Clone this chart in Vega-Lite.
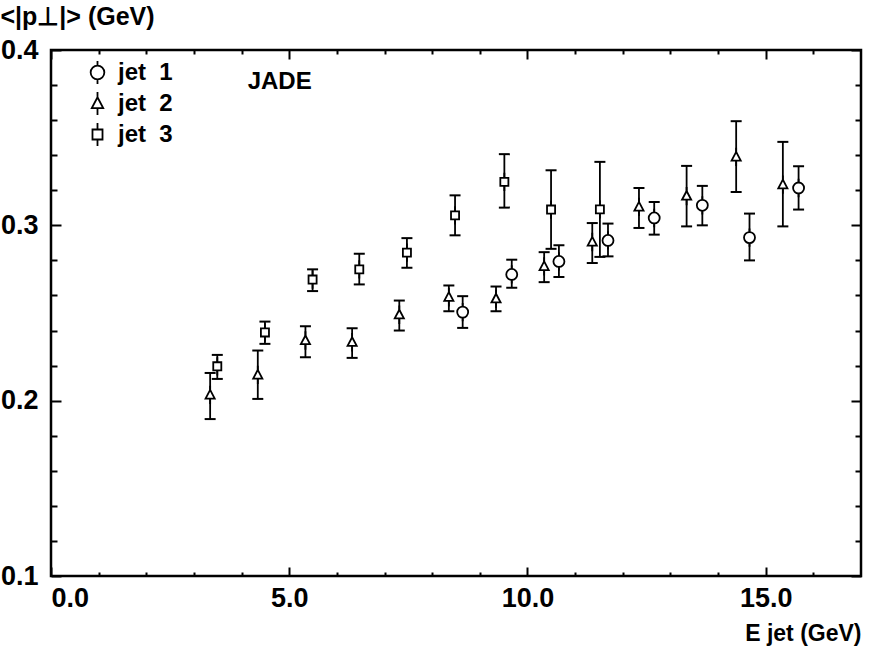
{
  "$schema": "https://vega.github.io/schema/vega-lite/v6.json",
  "width": 810,
  "height": 526,
  "autosize": {"type": "none"},
  "padding": {"left": 51, "top": 50, "right": 10, "bottom": 79},
  "background": "white",
  "config": {
    "view": {"stroke": "black", "strokeWidth": 2.5},
    "axis": {
      "grid": false,
      "domain": false,
      "tickColor": "black",
      "tickWidth": 2,
      "labelColor": "black",
      "titleColor": "black",
      "labelFont": "Liberation Sans",
      "titleFont": "Liberation Sans",
      "labelFontWeight": "bold",
      "titleFontWeight": "bold",
      "labelFontSize": 27,
      "labelOverlap": false,
      "labelBound": false
    },
    "legend": {"symbolSize": 520}
  },
  "data": {
    "values": [
      {"jet": "jet 1", "E": 8.64, "pt": 0.2505, "lo": 0.2415, "hi": 0.2596},
      {"jet": "jet 1", "E": 9.67, "pt": 0.272, "lo": 0.2644, "hi": 0.2804},
      {"jet": "jet 1", "E": 10.66, "pt": 0.2794, "lo": 0.2705, "hi": 0.2886},
      {"jet": "jet 1", "E": 11.69, "pt": 0.2914, "lo": 0.2823, "hi": 0.301},
      {"jet": "jet 1", "E": 12.66, "pt": 0.3042, "lo": 0.2947, "hi": 0.3133},
      {"jet": "jet 1", "E": 13.67, "pt": 0.3114, "lo": 0.3, "hi": 0.3225},
      {"jet": "jet 1", "E": 14.66, "pt": 0.293, "lo": 0.28, "hi": 0.3067},
      {"jet": "jet 1", "E": 15.69, "pt": 0.3213, "lo": 0.309, "hi": 0.3337},
      {"jet": "jet 2", "E": 3.34, "pt": 0.2033, "lo": 0.1895, "hi": 0.2158},
      {"jet": "jet 2", "E": 4.34, "pt": 0.2147, "lo": 0.201, "hi": 0.2286},
      {"jet": "jet 2", "E": 5.34, "pt": 0.2343, "lo": 0.2247, "hi": 0.2425},
      {"jet": "jet 2", "E": 6.32, "pt": 0.2333, "lo": 0.2244, "hi": 0.2413},
      {"jet": "jet 2", "E": 7.31, "pt": 0.249, "lo": 0.24, "hi": 0.2571},
      {"jet": "jet 2", "E": 8.35, "pt": 0.259, "lo": 0.251, "hi": 0.2657},
      {"jet": "jet 2", "E": 9.34, "pt": 0.2581, "lo": 0.251, "hi": 0.2651},
      {"jet": "jet 2", "E": 10.35, "pt": 0.2766, "lo": 0.2676, "hi": 0.2847},
      {"jet": "jet 2", "E": 11.36, "pt": 0.2905, "lo": 0.2785, "hi": 0.3013},
      {"jet": "jet 2", "E": 12.34, "pt": 0.3105, "lo": 0.2985, "hi": 0.3213},
      {"jet": "jet 2", "E": 13.34, "pt": 0.3167, "lo": 0.2994, "hi": 0.3339},
      {"jet": "jet 2", "E": 14.38, "pt": 0.339, "lo": 0.319, "hi": 0.3594},
      {"jet": "jet 2", "E": 15.36, "pt": 0.3232, "lo": 0.2994, "hi": 0.3476},
      {"jet": "jet 3", "E": 3.49, "pt": 0.2196, "lo": 0.2124, "hi": 0.2261},
      {"jet": "jet 3", "E": 4.49, "pt": 0.2389, "lo": 0.2324, "hi": 0.2451},
      {"jet": "jet 3", "E": 5.49, "pt": 0.2691, "lo": 0.2625, "hi": 0.2749},
      {"jet": "jet 3", "E": 6.47, "pt": 0.2749, "lo": 0.2663, "hi": 0.2838},
      {"jet": "jet 3", "E": 7.47, "pt": 0.2844, "lo": 0.2758, "hi": 0.2927},
      {"jet": "jet 3", "E": 8.48, "pt": 0.3057, "lo": 0.2943, "hi": 0.3171},
      {"jet": "jet 3", "E": 9.515, "pt": 0.3248, "lo": 0.3101, "hi": 0.3406},
      {"jet": "jet 3", "E": 10.495, "pt": 0.309, "lo": 0.2866, "hi": 0.3314},
      {"jet": "jet 3", "E": 11.52, "pt": 0.3091, "lo": 0.282, "hi": 0.3362}
    ]
  },
  "resolve": {"axis": {"x": "independent", "y": "independent"}},
  "layer": [
    {
      "mark": {"type": "rule", "color": "black", "strokeWidth": 1.8},
      "encoding": {
        "x": {
          "field": "E", "type": "quantitative",
          "scale": {"domain": [0, 17], "nice": false, "zero": false},
          "axis": {
            "orient": "bottom", "values": [0, 5, 10, 15], "format": ".1f",
            "tickSize": -9, "labelPadding": 18, "labelFlush": true,
            "title": "E jet (GeV)", "titleFontSize": 23, "titleAnchor": "end",
            "titleAlign": "right", "titleBaseline": "top", "titleX": 810, "titleY": 46
          }
        },
        "y": {
          "field": "lo", "type": "quantitative",
          "scale": {"domain": [0.1, 0.4], "nice": false, "zero": false},
          "axis": {
            "orient": "left", "values": [0.1, 0.2, 0.3, 0.4], "format": ".1f",
            "tickSize": -10, "labelPadding": 23,
            "title": "<|p⊥|> (GeV)", "titleFontSize": 25, "titleAngle": 0,
            "titleAlign": "left", "titleBaseline": "top", "titleX": -51, "titleY": -46
          }
        },
        "y2": {"field": "hi"}
      }
    },
    {
      "mark": {"type": "tick", "orient": "horizontal", "color": "black", "size": 11, "thickness": 2, "opacity": 1},
      "encoding": {
        "x": {
          "field": "E", "type": "quantitative",
          "scale": {"domain": [0, 17], "nice": false, "zero": false},
          "axis": {"orient": "bottom", "values": [1, 2, 3, 4, 6, 7, 8, 9, 11, 12, 13, 14, 16], "tickSize": -4, "labels": false, "title": null}
        },
        "y": {
          "field": "hi", "type": "quantitative",
          "scale": {"domain": [0.1, 0.4], "nice": false, "zero": false},
          "axis": {"orient": "left", "values": [0.12, 0.14, 0.16, 0.18, 0.22, 0.24, 0.26, 0.28, 0.32, 0.34, 0.36, 0.38], "tickSize": -6, "labels": false, "title": null}
        }
      }
    },
    {
      "mark": {"type": "tick", "orient": "horizontal", "color": "black", "size": 11, "thickness": 2, "opacity": 1},
      "encoding": {
        "x": {
          "field": "E", "type": "quantitative",
          "scale": {"domain": [0, 17], "nice": false, "zero": false},
          "axis": {"orient": "top", "values": [0, 5, 10, 15], "tickSize": -9, "labels": false, "title": null}
        },
        "y": {
          "field": "lo", "type": "quantitative",
          "scale": {"domain": [0.1, 0.4], "nice": false, "zero": false},
          "axis": {"orient": "right", "values": [0.1, 0.2, 0.3, 0.4], "tickSize": -10, "labels": false, "title": null}
        }
      }
    },
    {
      "mark": {"type": "point", "filled": false, "fill": "white", "stroke": "black", "strokeWidth": 1.8, "size": 336, "opacity": 1},
      "encoding": {
        "x": {
          "field": "E", "type": "quantitative",
          "scale": {"domain": [0, 17], "nice": false, "zero": false},
          "axis": {"orient": "top", "values": [1, 2, 3, 4, 6, 7, 8, 9, 11, 12, 13, 14, 16], "tickSize": -4, "labels": false, "title": null}
        },
        "y": {
          "field": "pt", "type": "quantitative",
          "scale": {"domain": [0.1, 0.4], "nice": false, "zero": false},
          "axis": {"orient": "right", "values": [0.12, 0.14, 0.16, 0.18, 0.22, 0.24, 0.26, 0.28, 0.32, 0.34, 0.36, 0.38], "tickSize": -6, "labels": false, "title": null}
        },
        "shape": {
          "field": "jet", "type": "nominal",
          "scale": {
            "domain": ["jet 1", "jet 2", "jet 3"],
            "range": [
              "M0.6,0A0.6,0.6,0,1,1,-0.6,0A0.6,0.6,0,1,1,0.6,0Z M0,-0.6L0,-1 M0,0.6L0,1",
              "M0,-0.55L0.5,0.4L-0.5,0.4Z M0,-0.55L0,-1 M0,0.4L0,1",
              "M-0.44,-0.44L0.44,-0.44L0.44,0.44L-0.44,0.44Z M0,-0.44L0,-1 M0,0.44L0,1"
            ]
          },
          "legend": {
            "title": null, "orient": "none", "legendX": 34, "legendY": 10, "padding": 0,
            "labelFont": "Liberation Sans",
            "labelFontSize": 24, "labelFontWeight": "bold", "labelColor": "black",
            "labelExpr": "replace(datum.label, ' ', '\u00a0\u00a0')",
            "symbolSize": 520, "symbolStrokeWidth": 1.8, "symbolOpacity": 1,
            "rowPadding": 0, "labelOffset": 8
          }
        }
      }
    },
    {
      "data": {"values": [{"label": "JADE"}]},
      "mark": {"type": "text", "font": "Liberation Sans", "fontSize": 24, "fontWeight": "bold", "color": "black", "align": "center", "baseline": "middle"},
      "encoding": {
        "x": {"datum": 4.8, "type": "quantitative", "scale": {"domain": [0, 17], "nice": false, "zero": false}, "axis": null},
        "y": {"datum": 0.382, "type": "quantitative", "scale": {"domain": [0.1, 0.4], "nice": false, "zero": false}, "axis": null},
        "text": {"field": "label"}
      }
    }
  ]
}
